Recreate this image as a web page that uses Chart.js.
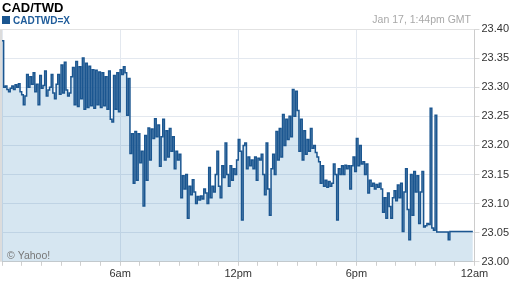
<!DOCTYPE html>
<html>
<head>
<meta charset="utf-8">
<script src="https://cdn.jsdelivr.net/npm/chart.js@4.4.1/dist/chart.umd.min.js"></script>
<style>
html,body{margin:0;padding:0;background:#fff;}
#wrap{width:512px;height:288px;}
</style>
</head>
<body>
<div id="wrap"><canvas id="c" width="512" height="288"></canvas></div>
<script>
const chartTitle = 'CAD/TWD';
const seriesName = 'CADTWD=X';
const stampText = 'Jan 17, 1:44pm GMT';
const creditText = '\u00A9 Yahoo!';
const xTickLabels = ['6am', '12pm', '6pm', '12am'];
const intervalMinutes = 5;
const values = [
23.380,23.300,23.302,23.296,23.292,23.298,23.302,23.296,23.304,23.300,
23.306,23.292,23.287,23.270,23.285,23.322,23.300,23.318,23.305,23.325,
23.292,23.305,23.270,23.320,23.298,23.303,23.328,23.285,23.295,23.300,
23.322,23.290,23.280,23.305,23.322,23.288,23.338,23.290,23.343,23.295,
23.285,23.290,23.318,23.334,23.270,23.344,23.267,23.335,23.280,23.350,
23.262,23.341,23.265,23.336,23.268,23.330,23.264,23.329,23.270,23.326,
23.265,23.325,23.268,23.318,23.262,23.328,23.245,23.240,23.320,23.262,
23.325,23.258,23.330,23.322,23.335,23.325,23.252,23.315,23.186,23.220,
23.135,23.224,23.140,23.220,23.170,23.190,23.096,23.217,23.140,23.230,
23.175,23.228,23.212,23.246,23.215,23.235,23.164,23.215,23.245,23.175,
23.225,23.180,23.229,23.190,23.215,23.160,23.190,23.175,23.185,23.110,
23.148,23.125,23.150,23.075,23.130,23.115,23.141,23.120,23.100,23.112,
23.106,23.113,23.108,23.125,23.118,23.100,23.162,23.110,23.130,23.120,
23.150,23.190,23.130,23.110,23.165,23.145,23.204,23.150,23.130,23.165,
23.140,23.160,23.150,23.175,23.210,23.190,23.072,23.200,23.204,23.160,
23.180,23.165,23.175,23.160,23.180,23.140,23.178,23.175,23.185,23.150,
23.115,23.204,23.125,23.080,23.160,23.185,23.150,23.224,23.175,23.229,
23.180,23.253,23.200,23.245,23.210,23.250,23.215,23.296,23.250,23.293,
23.260,23.190,23.245,23.175,23.225,23.185,23.210,23.190,23.229,23.195,
23.200,23.188,23.180,23.172,23.135,23.165,23.130,23.140,23.128,23.138,
23.130,23.135,23.168,23.150,23.072,23.160,23.150,23.165,23.150,23.166,
23.160,23.165,23.125,23.165,23.180,23.155,23.212,23.165,23.200,23.168,
23.172,23.150,23.168,23.118,23.140,23.130,23.135,23.125,23.133,23.128,
23.135,23.125,23.085,23.110,23.075,23.118,23.095,23.075,23.110,23.122,
23.105,23.132,23.110,23.135,23.052,23.120,23.160,23.090,23.038,23.150,
23.080,23.155,23.120,23.148,23.066,23.120,23.155,23.060,23.062,23.066,
23.064,23.264,23.058,23.054,23.252,23.051,23.051,23.051,23.051,23.051,
23.051,23.051,23.038,23.052,23.052,23.052,23.052,23.052,23.052,23.052,
23.052,23.052,23.052,23.052,23.052,23.052,23.052,23.052
];
const minutes = values.map((v, i) => i * intervalMinutes);
const points = values.map((v, i) => ({x: minutes[i], y: v}));

const FONT = "Arial, 'Liberation Sans', sans-serif";
const LINE = '#1b5690';

const decor = {
  id: 'decor',
  beforeDraw(chart) {
    const ctx = chart.ctx;
    ctx.save();
    ctx.fillStyle = '#ffffff';
    ctx.fillRect(0, 0, chart.width, chart.height);
    ctx.restore();
  },
  afterDatasetsDraw(chart) {
    const ctx = chart.ctx, a = chart.chartArea;
    ctx.save();
    ctx.strokeStyle = '#dcdcdc';
    ctx.lineWidth = 2;
    ctx.beginPath(); ctx.moveTo(1, a.top); ctx.lineTo(1, a.bottom); ctx.stroke();
    ctx.strokeStyle = '#e2e2e2';
    ctx.lineWidth = 1;
    ctx.beginPath(); ctx.moveTo(0, a.top + 0.5); ctx.lineTo(a.right, a.top + 0.5); ctx.stroke();
    ctx.fillStyle = '#000';
    ctx.font = 'bold 13px ' + FONT;
    ctx.textBaseline = 'alphabetic';
    ctx.textAlign = 'left';
    ctx.fillText(chartTitle, 2, 12);
    ctx.fillStyle = LINE;
    ctx.fillRect(2, 16, 8, 8);
    ctx.fillStyle = '#1f5c9a';
    ctx.font = 'bold 10px ' + FONT;
    ctx.fillText(seriesName, 13, 24);
    ctx.fillStyle = '#a8a8a8';
    ctx.font = '10.5px ' + FONT;
    ctx.textAlign = 'right';
    ctx.fillText(stampText, 471, 23);
    ctx.textAlign = 'left';
    ctx.fillStyle = '#777';
    ctx.font = '10.5px ' + FONT;
    ctx.fillText(creditText, 7, 259);
    ctx.restore();
  }
};

new Chart(document.getElementById('c'), {
  type: 'line',
  data: {
    datasets: [{
      label: seriesName,
      data: points,
      borderColor: LINE,
      borderWidth: 1.5,
      backgroundColor: 'rgba(50,130,185,0.2)',
      fill: 'start',
      pointRadius: 0,
      tension: 0,
      stepped: true
    }]
  },
  options: {
    responsive: false,
    animation: false,
    devicePixelRatio: 1,
    layout: {padding: {left: 2, right: 1, top: 29, bottom: 5}},
    plugins: {legend: {display: false}, title: {display: false}, tooltip: {enabled: false}},
    scales: {
      x: {
        type: 'linear', min: 0, max: 1440,
        ticks: {
          stepSize: 60, autoSkip: false, maxRotation: 0, padding: 2,
          color: '#333', font: {family: FONT, size: 11},
          callback: v => (v > 0 && v % 360 === 0) ? xTickLabels[v / 360 - 1] : ''
        },
        grid: {
          color: c => (c.tick && c.tick.value % 360 === 0) ? '#e3e8ef' : 'rgba(0,0,0,0)',
          tickColor: '#cfcfcf', tickLength: 4
        },
        border: {color: '#d0d0d0'}
      },
      y: {
        position: 'right', min: 23.0, max: 23.4,
        ticks: {
          stepSize: 0.05, padding: 2, color: '#333', font: {family: FONT, size: 11},
          callback: v => Number(v).toFixed(2)
        },
        grid: {color: '#e3e8ef', tickColor: '#d8d8d8', tickLength: 5},
        border: {color: '#cccccc'}
      }
    }
  },
  plugins: [decor]
});
</script>
</body>
</html>
